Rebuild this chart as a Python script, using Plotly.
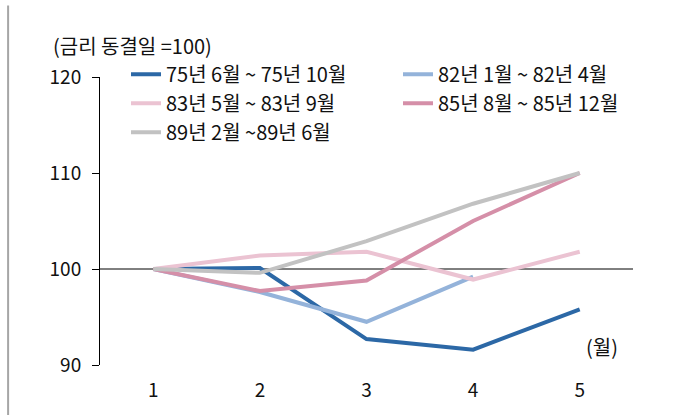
import plotly.graph_objects as go

# 금리 동결일 이후 경과 월
months = [1, 2, 3, 4, 5]

s75 = [100, 100.1, 92.7, 91.6, 95.8]
s82 = [100, 97.6, 94.5, 99.2]
s83 = [100, 101.4, 101.8, 98.9, 101.8]
s85 = [100, 97.7, 98.8, 105.0, 110.0]
s89 = [100, 99.6, 102.9, 106.8, 110.0]

series = [
    ("75년 6월 ~ 75년 10월", s75, "#2C68A6"),
    ("82년 1월 ~ 82년 4월", s82, "#94B3DA"),
    ("83년 5월 ~ 83년 9월", s83, "#EBC3D2"),
    ("85년 8월 ~ 85년 12월", s85, "#D58FA8"),
    ("89년 2월 ~89년 6월", s89, "#C2C2C2"),
]

FONT = "Noto Sans CJK KR"

fig = go.Figure()

for name, vals, color in series:
    fig.add_trace(
        go.Scatter(
            x=months[: len(vals)],
            y=vals,
            name=name,
            mode="lines",
            line=dict(color=color, width=4),
        )
    )

# 기준선 (=100), 1~5월 구간 양옆 반 칸까지
fig.add_shape(
    type="line", xref="x", yref="y", x0=0.5, x1=5.5, y0=100, y1=100,
    line=dict(color="#000000", width=1), layer="below",
)

fig.update_layout(
    width=678,
    height=415,
    margin=dict(l=100, r=0, t=77, b=50),
    plot_bgcolor="white",
    paper_bgcolor="white",
    font=dict(family=FONT, size=19, color="#111111"),
    showlegend=True,
    legend=dict(
        orientation="h",
        x=0.045,
        y=1.077,
        xanchor="left",
        yanchor="top",
        entrywidth=227,
        entrywidthmode="pixels",
        bgcolor="rgba(0,0,0,0)",
        font=dict(size=20),
        tracegroupgap=0,
    ),
    annotations=[
        dict(text="(금리 동결일 =100)", xref="paper", yref="paper",
             x=-0.0848, y=1.111, xanchor="left", yanchor="middle",
             showarrow=False, font=dict(size=20)),
        dict(text="(월)", xref="paper", yref="paper",
             x=0.8685, y=0.063, xanchor="center", yanchor="middle",
             showarrow=False, font=dict(size=20)),
    ],
    shapes=[
        # 바깥 테두리 (상단, 좌측)
        dict(type="line", xref="paper", yref="paper", x0=-0.159, x1=1.0,
             y0=1.248, y1=1.248, line=dict(color="#A6A6A6", width=2)),
        dict(type="line", xref="paper", yref="paper", x0=-0.159, x1=-0.159,
             y0=-0.2, y1=1.248, line=dict(color="#A6A6A6", width=2)),
    ],
)

fig.update_xaxes(
    range=[0.5, 5.922],
    tickvals=months,
    showgrid=False,
    zeroline=False,
    showline=False,
    ticks="",
    ticklabelstandoff=12,
)

fig.update_yaxes(
    range=[90, 120],
    tickvals=[90, 100, 110, 120],
    showgrid=False,
    zeroline=False,
    showline=True,
    linecolor="#000000",
    linewidth=1,
    ticks="outside",
    ticklen=7,
    tickcolor="#000000",
    ticklabelstandoff=7,
)

fig.write_html(
    "out.html",
    config={"displayModeBar": False},
    post_script="document.body.style.margin='0px';",
)
